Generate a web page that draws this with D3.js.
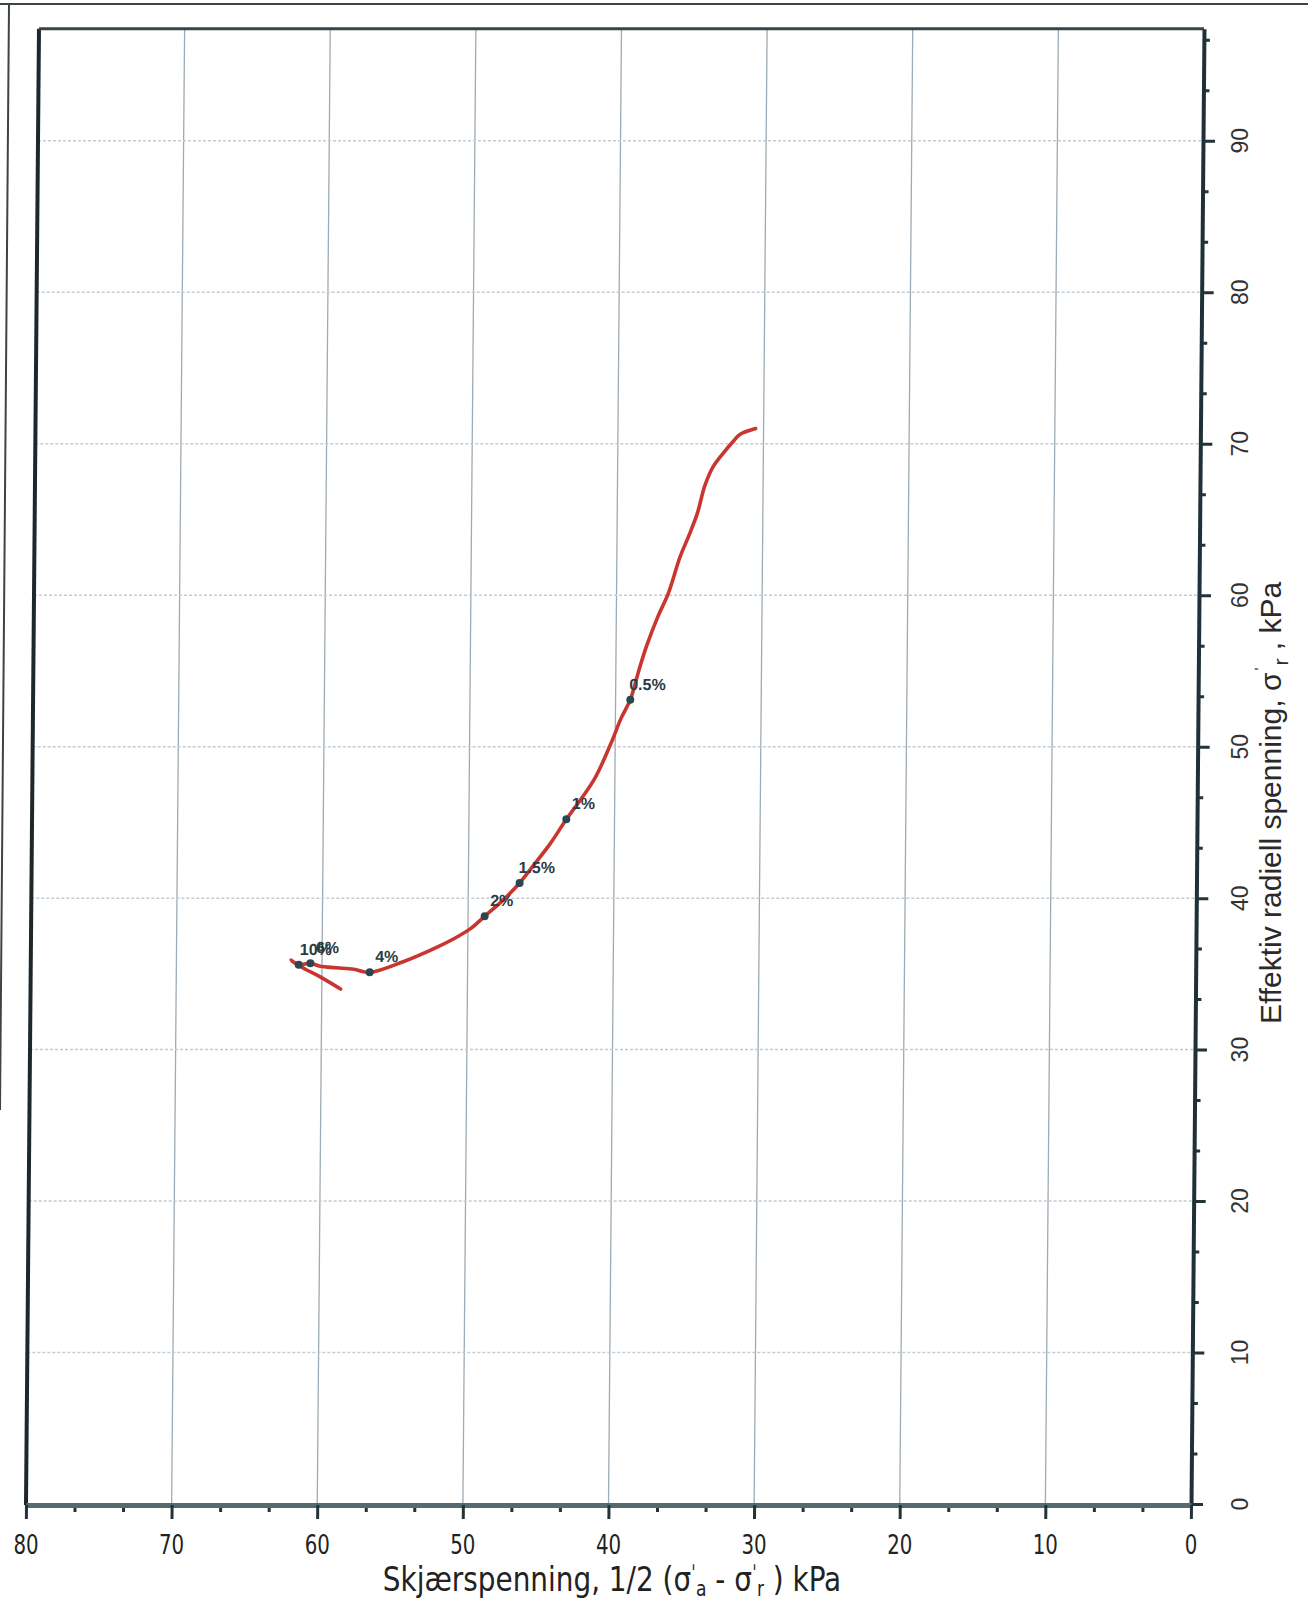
<!DOCTYPE html>
<html>
<head>
<meta charset="utf-8">
<script src="https://cdn.jsdelivr.net/npm/d3@7/dist/d3.min.js"></script>
<style>
	body { margin: 0; background: #fff; }
	svg { display: block; }
</style>
</head>
<body>
<div class="chart"></div>
<script>
// stress path (shear x, radial y)
const shear = [30.55, 31.65, 32.04, 32.74, 33.43, 34.01, 34.5, 35.08, 35.67, 36.45, 37.14, 37.92, 38.4, 38.99, 39.6, 40.3, 41.44, 43.31, 44.4, 45.59, 46.48, 47.57, 48.86, 49.8, 50.9, 52.14, 54.43, 56.72, 57.82, 59.02, 60.12, 60.8, 61.6, 62.13, 61.32, 60.12, 58.71]
const radial = [71.0, 70.6, 70.2, 69.4, 68.5, 67.2, 65.4, 63.9, 62.5, 60.1, 58.6, 56.6, 55.1, 53.1, 51.9, 50.2, 47.8, 45.2, 43.6, 42.1, 41.0, 39.9, 38.8, 38.0, 37.35, 36.75, 35.8, 35.1, 35.3, 35.4, 35.5, 35.7, 35.6, 35.9, 35.4, 34.8, 34.0]

// strain markers
const strainLabels = ['0.5%', '1%', '1.5%', '2%', '4%', '6%', '10%']
const strainShear = [38.99, 43.31, 46.48, 48.86, 56.72, 60.8, 61.6]
const strainRadial = [53.1, 45.2, 41.0, 38.8, 35.1, 35.7, 35.6]

const xTicks = [80, 70, 60, 50, 40, 30, 20, 10, 0]
const yTicks = [0, 10, 20, 30, 40, 50, 60, 70, 80, 90]
const yMax = 97.4

const width = 1308
const height = 1606
const plotLeft = 26
const plotRight = 1191
const plotTop = 28.7
const plotBottom = 1505
const lean = 0.0088 // the scan leans a little to the right at the top

const xScale = d3.scaleLinear().domain([80, 0]).range([plotLeft, plotRight])
const yScale = d3.scaleLinear().domain([0, yMax]).range([1504, plotTop])

const svg = d3.select('.chart')
	.append('svg')
	.attr('width', width)
	.attr('height', height)

svg.append('rect').attr('width', width).attr('height', height).attr('fill', '#fff')

// page border of the scan
svg.append('path')
	.attr('d', 'M0,4 L1308,4 M9,4 L0,1110')
	.attr('fill', 'none')
	.attr('stroke', '#3c4448')
	.attr('stroke-width', 2)

const plot = svg.append('g')
	.attr('transform', 'translate(' + (lean * plotBottom) + ',0) skewX(' + (-Math.atan(lean) * 180 / Math.PI) + ')')

// grid
plot.selectAll('.vgrid')
	.data(xTicks.filter(d => d > 0 && d < 80))
	.enter()
	.append('line')
	.attr('class', 'vgrid')
	.attr('x1', d => xScale(d))
	.attr('x2', d => xScale(d))
	.attr('y1', plotTop)
	.attr('y2', plotBottom)
	.attr('stroke', '#9eabb4')
	.attr('stroke-width', 1.3)

plot.selectAll('.hgrid')
	.data(yTicks.filter(d => d > 0))
	.enter()
	.append('line')
	.attr('class', 'hgrid')
	.attr('x1', plotLeft)
	.attr('x2', plotRight)
	.attr('y1', d => yScale(d))
	.attr('y2', d => yScale(d))
	.attr('stroke', '#c3ccd3')
	.attr('stroke-width', 1.5)
	.attr('stroke-dasharray', '3,2')

// frame: left and top
plot.append('line')
	.attr('x1', plotLeft).attr('x2', plotLeft)
	.attr('y1', plotTop).attr('y2', plotBottom)
	.attr('stroke', '#1d272c')
	.attr('stroke-width', 4)

plot.append('line')
	.attr('x1', plotLeft).attr('x2', plotRight)
	.attr('y1', plotTop).attr('y2', plotTop)
	.attr('stroke', '#3a4348')
	.attr('stroke-width', 3)

// right axis, ticks only (labels drawn upright below)
const yMinor = d3.range(0, yMax, 10 / 3).filter(d => Math.abs(d / 10 - Math.round(d / 10)) > 0.01)
const yAxisMinor = plot.append('g')
	.attr('transform', 'translate(' + plotRight + ',0)')
	.call(d3.axisRight(yScale).tickValues(yMinor).tickSize(6).tickSizeOuter(0).tickFormat(''))
const yAxis = plot.append('g')
	.attr('id', 'y-axis')
	.attr('transform', 'translate(' + plotRight + ',0)')
	.call(d3.axisRight(yScale).tickValues(yTicks).tickSize(12).tickSizeOuter(0).tickFormat(''))

// bottom axis
const xMinor = d3.range(0, 80, 10 / 3).filter(d => Math.abs(d / 10 - Math.round(d / 10)) > 0.01)
const xAxisMinor = plot.append('g')
	.attr('transform', 'translate(0,' + plotBottom + ')')
	.call(d3.axisBottom(xScale).tickValues(xMinor).tickSize(7).tickSizeOuter(0).tickFormat(''))
const xAxis = plot.append('g')
	.attr('id', 'x-axis')
	.attr('transform', 'translate(0,' + plotBottom + ')')
	.call(d3.axisBottom(xScale).tickValues(xTicks).tickSize(14).tickSizeOuter(0).tickFormat(''))

plot.selectAll('.tick line').attr('stroke', '#22333a').attr('stroke-width', 3)
yAxis.select('.domain').attr('stroke', '#1f3038').attr('stroke-width', 4)
yAxisMinor.select('.domain').remove()
xAxis.select('.domain').attr('stroke', '#566b70').attr('stroke-width', 5)
xAxisMinor.select('.domain').remove()

// stress path
const line = d3.line()
	.x((d, i) => xScale(shear[i]))
	.y((d, i) => yScale(radial[i]))
	.curve(d3.curveCatmullRom.alpha(0.5))

plot.append('path')
	.datum(shear)
	.attr('d', line)
	.attr('fill', 'none')
	.attr('stroke', '#c9352f')
	.attr('stroke-width', 3.6)
	.attr('stroke-linejoin', 'round')
	.attr('stroke-linecap', 'round')

plot.selectAll('.dot')
	.data(strainLabels)
	.enter()
	.append('circle')
	.attr('class', 'dot')
	.attr('cx', (d, i) => xScale(strainShear[i]))
	.attr('cy', (d, i) => yScale(strainRadial[i]))
	.attr('r', 4)
	.attr('fill', '#2a474f')

plot.selectAll('.strain')
	.data(strainLabels)
	.enter()
	.append('text')
	.attr('class', 'strain')
	.attr('x', (d, i) => xScale(strainShear[i]) + 17)
	.attr('y', (d, i) => yScale(strainRadial[i]) - 10)
	.attr('text-anchor', 'middle')
	.attr('font-family', 'Liberation Sans, Arial, sans-serif')
	.attr('font-weight', 'bold')
	.attr('font-size', 16)
	.attr('fill', '#2b3b41')
	.text(d => d)

// tick labels
svg.selectAll('.xlab')
	.data(xTicks)
	.enter()
	.append('text')
	.attr('class', 'xlab')
	.attr('transform', d => 'translate(' + xScale(d) + ',1554) scale(1,1.22)')
	.attr('text-anchor', 'middle')
	.attr('font-family', 'DejaVu Sans Condensed, DejaVu Sans, sans-serif')
	.attr('font-stretch', 'condensed')
	.attr('font-size', 22)
	.attr('fill', '#222')
	.text(d => d)

svg.selectAll('.ylab')
	.data(yTicks)
	.enter()
	.append('text')
	.attr('class', 'ylab')
	.attr('transform', d => 'translate(1240,' + yScale(d) + ') rotate(-90)')
	.attr('text-anchor', 'middle')
	.attr('dy', '0.35em')
	.attr('font-family', 'Liberation Sans, Arial, sans-serif')
	.attr('font-size', 23)
	.attr('fill', '#333')
	.text(d => d)

// axis titles
const xTitle = svg.append('text')
	.attr('transform', 'translate(612,1591) scale(1,1.08)')
	.attr('text-anchor', 'middle')
	.attr('font-family', 'DejaVu Sans Condensed, DejaVu Sans, sans-serif')
	.attr('font-stretch', 'condensed')
	.attr('font-size', 31)
	.attr('fill', '#222')
xTitle.append('tspan').text('Skjærspenning, 1/2 (σ')
xTitle.append('tspan').attr('dy', -10).attr('font-size', 20).text('ˈ')
xTitle.append('tspan').attr('dy', 15).attr('font-size', 19).text('a')
xTitle.append('tspan').attr('dy', -5).text(' -  σ')
xTitle.append('tspan').attr('dy', -10).attr('font-size', 20).text('ˈ')
xTitle.append('tspan').attr('dy', 15).attr('font-size', 19).text('r')
xTitle.append('tspan').attr('dy', -5).text(' )  kPa')

const yTitle = svg.append('text')
	.attr('transform', 'translate(1281,803) rotate(-90)')
	.attr('text-anchor', 'middle')
	.attr('font-family', 'Liberation Sans, Arial, sans-serif')
	.attr('font-size', 30)
	.attr('fill', '#2a2a2a')
yTitle.append('tspan').text('Effektiv radiell spenning,  σ')
yTitle.append('tspan').attr('dy', -11).attr('font-size', 21).text('ˈ')
yTitle.append('tspan').attr('dy', 18).attr('font-size', 21).text('r')
yTitle.append('tspan').attr('dy', -7).text('   , kPa')
</script>
</body>
</html>
